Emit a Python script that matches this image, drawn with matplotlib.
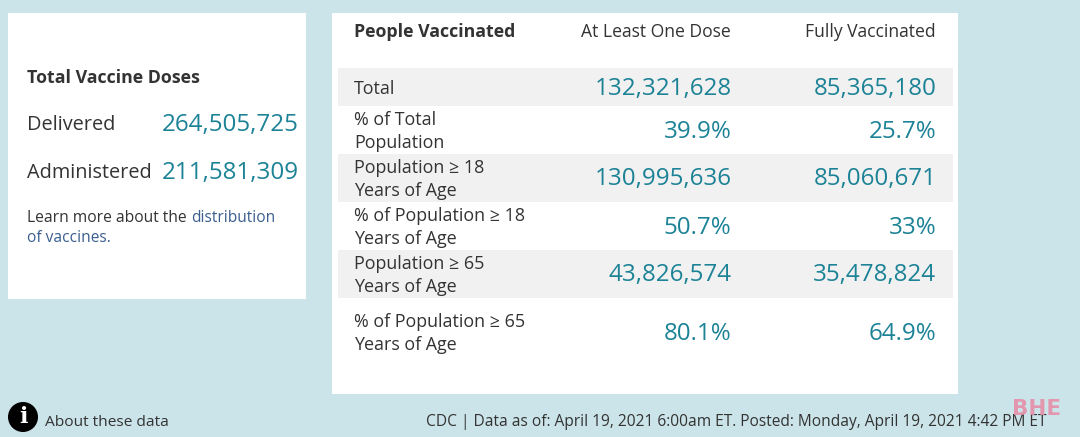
#!/usr/bin/env python3
"""CDC vaccination summary panel, drawn on a pixel-sized axes."""

import matplotlib

matplotlib.use("Agg")
import matplotlib.pyplot as plt
from matplotlib.patches import Circle, Rectangle

doses_labels = ["Delivered", "Administered"]
doses_values = ["264,505,725", "211,581,309"]

column_titles = ["At Least One Dose", "Fully Vaccinated"]
row_labels = [
    "Total",
    "% of Total\nPopulation",
    "Population ≥ 18\nYears of Age",
    "% of Population ≥ 18\nYears of Age",
    "Population ≥ 65\nYears of Age",
    "% of Population ≥ 65\nYears of Age",
]
at_least_one = ["132,321,628", "39.9%", "130,995,636", "50.7%", "43,826,574", "80.1%"]
fully_vaccinated = ["85,365,180", "25.7%", "85,060,671", "33%", "35,478,824", "64.9%"]

row_y = [87, 130, 178, 226, 274, 332]
shaded_rows = [(68, 106), (154, 202), (250, 298)]

bg = "#CBE4E9"
ink = "#333333"
teal = "#1C8296"
link = "#3A5F8F"
font = "Open Sans"

fig = plt.figure(figsize=(10.8, 4.37), dpi=100, facecolor=bg)
ax = fig.add_axes([0, 0, 1, 1])
ax.set_xlim(0, 1080)
ax.set_ylim(437, 0)
ax.axis("off")


def put(x, y, s, size=12.9, color=ink, ha="left", weight="normal", **kw):
    # y is given as the line center seen in the reference; the font sits a bit high
    ax.text(x, y + 1.5, s, fontsize=size, color=color, ha=ha, va="center",
            family=font, fontweight=weight, **kw)


# white cards
ax.add_patch(Rectangle((8, 13), 298, 286, fc="white", ec="none"))
ax.add_patch(Rectangle((332, 13), 626, 381, fc="white", ec="none"))

# left card
put(27, 76.5, "Total Vaccine Doses", size=12.8, weight="bold")
for y, lab, val in zip([123, 171], doses_labels, doses_values):
    put(27, y, lab, size=14.35)
    put(299, y, val, size=17.4, color=teal, ha="right")
put(27, 216, "Learn more about the", size=11.25)
put(191, 216, "distribution", size=11.2, color=link)
put(27, 237, "of vaccines.", size=11.2, color=link)

# right table
put(354.5, 30.5, "People Vaccinated", size=12.75, weight="bold")
put(731, 30.5, column_titles[0], size=12.65, ha="right")
put(936, 30.5, column_titles[1], size=12.65, ha="right")
for y0, y1 in shaded_rows:
    ax.add_patch(Rectangle((338, y0), 615, y1 - y0, fc="#F1F1F1", ec="none"))
for y, lab, a, b in zip(row_y, row_labels, at_least_one, fully_vaccinated):
    put(354, y, lab, linespacing=1.3)
    put(731.5, y, a, size=17.4, color=teal, ha="right")
    put(936.5, y, b, size=17.4, color=teal, ha="right")

# footer
ax.add_patch(Circle((23, 417), 15, fc="black", ec="none"))
ax.text(23, 417, "i", fontsize=16, color="white", ha="center", va="center",
        family="DejaVu Serif", fontweight="bold")
put(45, 420.5, "About these data", size=11.15)
put(1046, 420.5, "CDC | Data as of: April 19, 2021 6:00am ET. Posted: Monday, April 19, 2021 4:42 PM ET",
    size=11.2, ha="right")
# watermark sits on top of the footer text in the source
ax.text(1036.5, 409, "BHE", fontsize=15.5, color="#E58FA9", alpha=0.9, ha="center", va="center",
        family="DejaVu Sans", fontweight="bold", zorder=5)

fig.savefig("out.png", dpi=100, facecolor=bg)
